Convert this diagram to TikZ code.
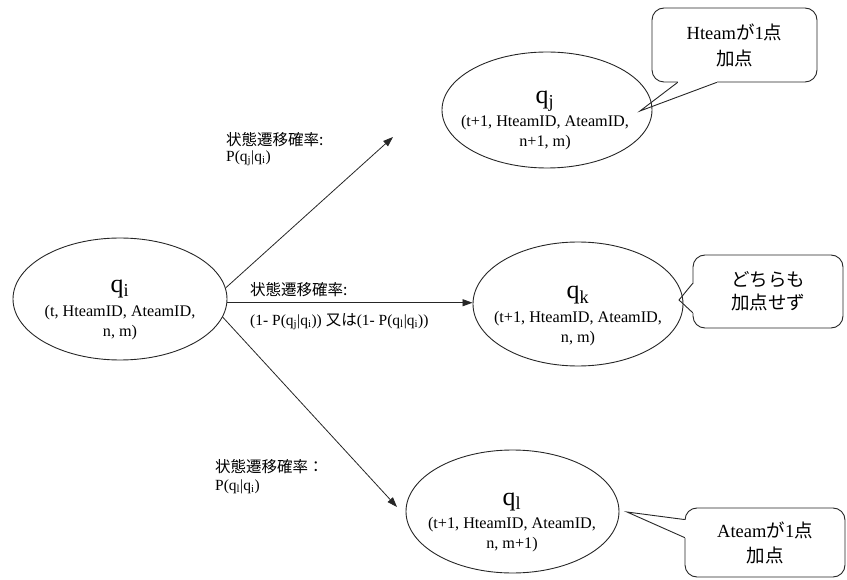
\documentclass[tikz,border=0pt]{standalone}
\usepackage{fontspec}
\setmainfont{Liberation Serif}
\newfontfamily\jp{Noto Sans CJK JP}
\usetikzlibrary{shapes.geometric,arrows.meta,calc}
\begin{document}
\begin{tikzpicture}[x=1pt,y=-1pt,
  state/.style={ellipse,draw=black!85,line width=0.9pt,inner sep=0pt},
  statename/.style={anchor=base,inner sep=0pt,font=\fontsize{26}{26}\selectfont},
  statetuple/.style={align=center,inner sep=0pt,font=\fontsize{16.2}{20}\selectfont},
  transition/.style={draw=black!85,line width=0.8pt,-{Triangle[length=10pt,width=7pt]}},
  problabel/.style={align=left,inner sep=0pt,anchor=north west,font=\fontsize{15.5}{16}\selectfont},
  notebox/.style={draw=black!85,line width=0.9pt,rounded corners=12pt,align=center,inner sep=0pt,font=\fontsize{18.5}{25}\selectfont},
  notegap/.style={draw=white,line width=2.2pt},
  notepointer/.style={draw=black!85,line width=0.9pt,line cap=round,line join=miter}
]
\useasboundingbox (0,0) rectangle (847,580);

% states
\node[state,minimum width=214pt,minimum height=122pt] (qi) at (120,299) {};
\node[state,minimum width=210pt,minimum height=116pt] (qj) at (547,110) {};
\node[state,minimum width=210pt,minimum height=124pt] (qk) at (578,304) {};
\node[state,minimum width=213pt,minimum height=123pt] (ql) at (512.5,511.5) {};

% state names and tuples
\node[statename] (qi-name) at (120,293) {q\textsubscript{i}};
\node[statetuple] (qi-tuple) at (120,323) {(t, HteamID, AteamID,\\ n, m)};
\node[statename] (qj-name) at (545,104) {q\textsubscript{j}};
\node[statetuple] (qj-tuple) at (545,133) {(t+1, HteamID, AteamID,\\ n+1, m)};
\node[statename] (qk-name) at (578,299) {q\textsubscript{k}};
\node[statetuple] (qk-tuple) at (578,329) {(t+1, HteamID, AteamID,\\ n, m)};
\node[statename] (ql-name) at (512,505) {q\textsubscript{l}};
\node[statetuple] (ql-tuple) at (512,535) {(t+1, HteamID, AteamID,\\ n, m+1)};

% transitions
\coordinate (tipj) at (393,137);
\coordinate (tipl) at (397,507);
\draw[transition] (qi.6) -- (tipj);
\draw[transition] (qi.-2) -- (qi.-2 -| qk.west);
\draw[transition] (qi.-10) -- (tipl);

% transition probabilities
\node[problabel] (pj) at (226,132) {{\jp 状態遷移確率:}\\P(q\textsubscript{j}|q\textsubscript{i})};
\node[problabel,font=\fontsize{15.5}{30}\selectfont] (pk) at (250,282)
  {{\jp 状態遷移確率:}\\(1- P(q\textsubscript{j}|q\textsubscript{i})) {\jp 又は}(1- P(q\textsubscript{l}|q\textsubscript{i}))};
\node[problabel,font=\fontsize{15.5}{18}\selectfont] (pl) at (215,459) {{\jp 状態遷移確率：}\\P(q\textsubscript{l}|q\textsubscript{i})};

% notes
\node[notebox,minimum width=165pt,minimum height=74pt,font=\fontsize{18.5}{26}\selectfont] (cj) at (734.5,45)
  {Hteam{\jp が}1{\jp 点}\\{\jp 加点}};
\node[notebox,minimum width=150pt,minimum height=73pt,font=\fontsize{18.5}{23}\selectfont] (ck) at (768,291.5)
  {{\jp どちらも}\\{\jp 加点せず}};
\node[notebox,minimum width=160pt,minimum height=69pt] (cl) at (765,542.5)
  {Ateam{\jp が}1{\jp 点}\\{\jp 加点}};

% note pointers
\coordinate (cj-a) at ($(cj.south west)+(26,0)$);
\coordinate (cj-b) at ($(cj.south west)+(65,0)$);
\coordinate (cj-tip) at (640,111);
\coordinate (ck-a) at ($(ck.north west)+(0,29)$);
\coordinate (ck-b) at ($(ck.north west)+(0,58)$);
\coordinate (ck-tip) at (679,300);
\coordinate (cl-a) at ($(cl.north west)+(0,12)$);
\coordinate (cl-b) at ($(cl.north west)+(0,30)$);
\coordinate (cl-tip) at (627,512);

\draw[notegap] (cj-a) -- (cj-b);
\draw[notegap] (ck-a) -- (ck-b);
\draw[notegap] (cl-a) -- (cl-b);
\draw[notepointer] (cj-a) -- (cj-tip) -- (cj-b);
\draw[notepointer] (ck-a) -- (ck-tip) -- (ck-b);
\draw[notepointer] (cl-a) -- (cl-tip) -- (cl-b);
\end{tikzpicture}
\end{document}
